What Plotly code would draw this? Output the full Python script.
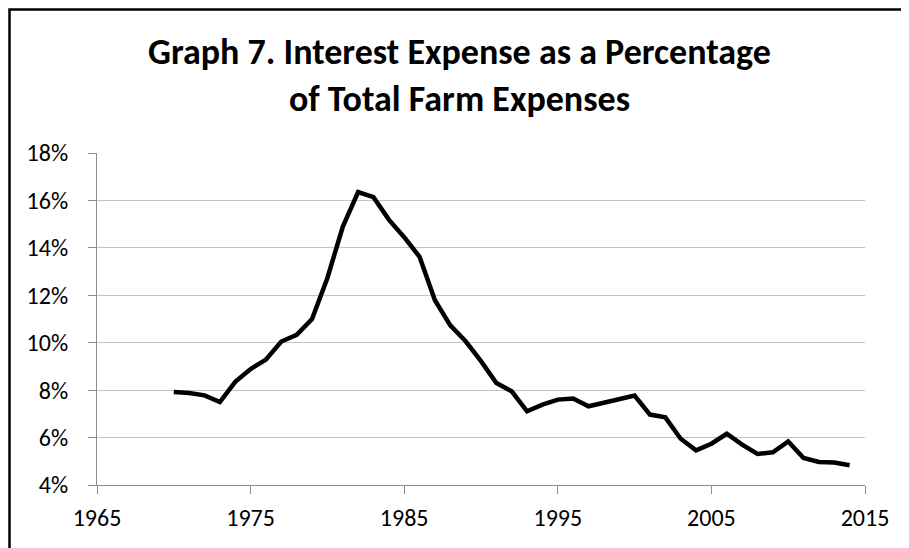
import plotly.graph_objects as go

years = list(range(1970, 2015))
interest_pct = [7.92, 7.88, 7.78, 7.50, 8.35, 8.89, 9.29, 10.05, 10.33, 11.00,
                12.73, 14.89, 16.35, 16.14, 15.19, 14.45, 13.62, 11.79, 10.73, 10.06,
                9.22, 8.30, 7.95, 7.11, 7.39, 7.60, 7.65, 7.32, 7.47, 7.60,
                7.77, 6.97, 6.85, 5.95, 5.46, 5.74, 6.16, 5.70, 5.31, 5.38,
                5.84, 5.14, 4.97, 4.95, 4.83]

x_ticks = [1965, 1975, 1985, 1995, 2005, 2015]
y_ticks = [4, 6, 8, 10, 12, 14, 16, 18]
y_tick_labels = ["4%", "6%", "8%", "10%", "12%", "14%", "16%", "18%"]

FONT = "Carlito, Calibri, Lato, sans-serif"

# plot area in figure pixels
L, R, T, B = 89, 857, 145, 477
W, H = 909, 548

fig = go.Figure()
fig.add_trace(go.Scatter(x=years, y=interest_pct, mode="lines",
                         line=dict(color="black", width=4.5),
                         showlegend=False, hoverinfo="x+y"))

fig.update_layout(
    width=W, height=H,
    margin=dict(l=L, r=W - R, t=T, b=H - B, autoexpand=False),
    paper_bgcolor="white", plot_bgcolor="white",
    font=dict(family=FONT, color="black", size=24),
    title=dict(text="<b>Graph 7. Interest Expense as a Percentage<br>of Total Farm Expenses</b>",
               x=451.5 / W, xanchor="center", xref="container",
               y=1 - 56 / H, yanchor="middle", yref="container",
               font=dict(family=FONT, size=36, color="black")),
    xaxis=dict(range=[1965, 2015], tickvals=x_ticks, showgrid=False,
               showline=True, linecolor="#8c8c8c", linewidth=1.2,
               ticks="outside", ticklen=8, tickcolor="#8c8c8c", tickwidth=1.2,
               ticklabelstandoff=3,
               zeroline=False, tickfont=dict(size=24, family=FONT)),
    yaxis=dict(range=[4, 18], tickvals=y_ticks, ticktext=y_tick_labels,
               showgrid=True, gridcolor="#c4c4c4", gridwidth=1.2,
               showline=True, linecolor="#8c8c8c", linewidth=1.2,
               ticks="outside", ticklen=8, tickcolor="#8c8c8c", tickwidth=1.2,
               ticklabelstandoff=15,
               zeroline=False, tickfont=dict(size=24, family=FONT)),
    shapes=[dict(type="rect", xref="paper", yref="paper",
                 x0=(1.5 - L) / (R - L), x1=(W + 10 - L) / (R - L),
                 y0=(B - H - 10) / (B - T), y1=1 + (T - 1.5) / (B - T),
                 line=dict(color="black", width=2.5), fillcolor="rgba(0,0,0,0)")],
)

fig.write_html("out.html")
